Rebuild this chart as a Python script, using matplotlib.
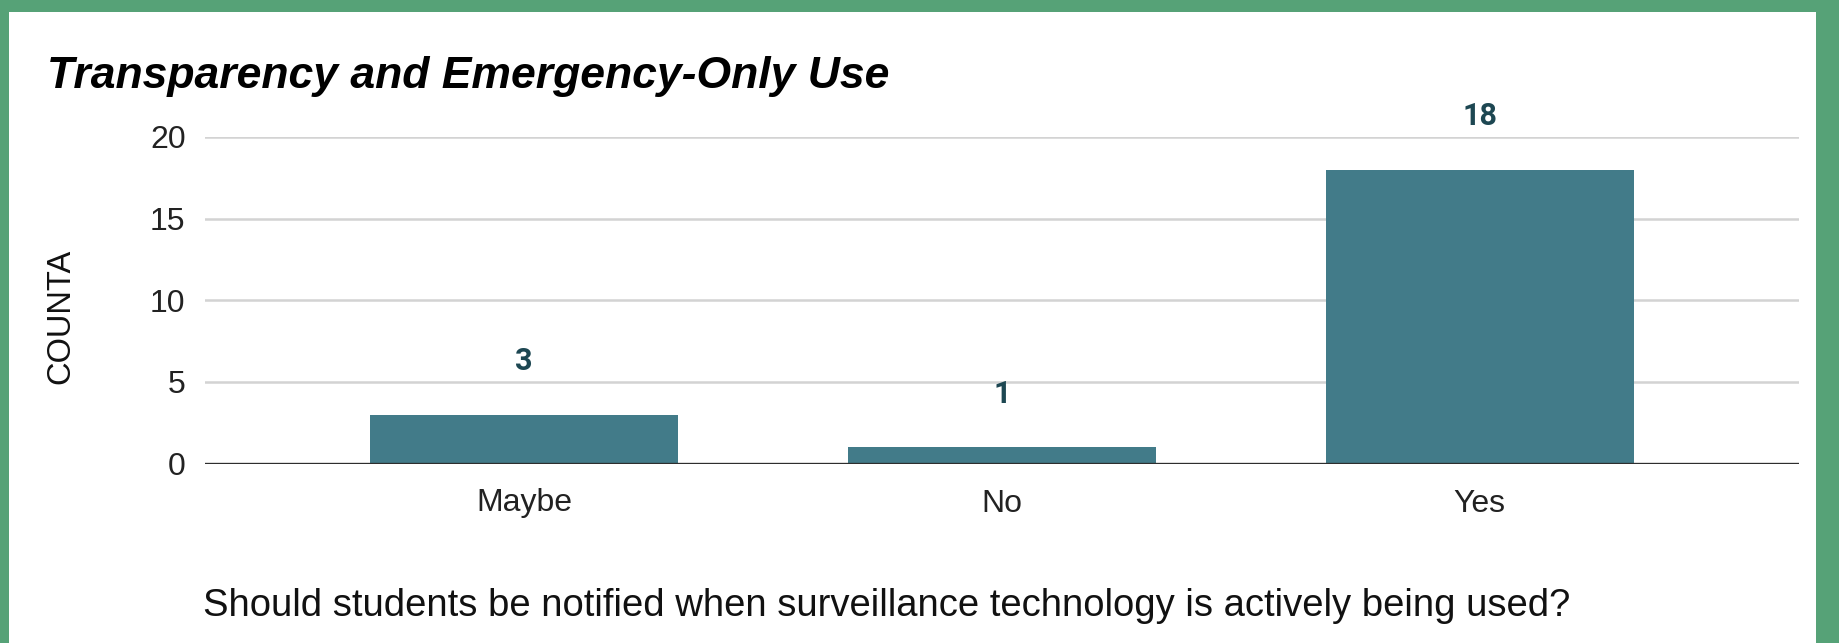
import matplotlib
matplotlib.use("Agg")
import matplotlib.pyplot as plt
from matplotlib.patches import Rectangle

categories = ["Maybe", "No", "Yes"]
counts = [3, 1, 18]
yticks = [0, 5, 10, 15, 20]
title = "Transparency and Emergency-Only Use"
xlabel = "Should students be notified when surveillance technology is actively being used?"
ylabel = "COUNTA"

W, H = 1840, 643
fig = plt.figure(figsize=(W / 100, H / 100), dpi=100)
fig.patch.set_facecolor("#56a277")
fig.patches.append(Rectangle((9 / W, 0), (W - 9 - 24) / W, (H - 12) / H,
                             transform=fig.transFigure, facecolor="white",
                             edgecolor="none", zorder=-5))

ax = fig.add_axes([205 / W, 1 - 463.5 / H, (1799 - 205) / W, (463.5 - 137) / H])
ax.set_zorder(2)
ax.set_facecolor("none")
x = list(range(len(categories)))
bars = ax.bar(x, counts, width=0.644, color="#427b89", zorder=3)
for xi, v in zip(x, counts):
    ax.annotate(str(v), (xi, v), xytext=(0, 38.5), textcoords="offset points",
                ha="center", va="center", fontsize=22, fontweight="bold",
                family="Roboto", color="#1d4752")

ax.set_xlim(-0.668, 2.668)
ax.set_ylim(0, 20)
ax.set_yticks(yticks)
ax.set_xticks(x)
ax.set_xticklabels(categories)
ax.grid(axis="y", color="#d3d3d3", linewidth=1.8, zorder=0)
ax.axhline(0, color="#2e2e2e", linewidth=2.4, zorder=4)
for s in ax.spines.values():
    s.set_visible(False)
ax.tick_params(axis="both", length=0, labelsize=23, colors="#222222")
ax.tick_params(axis="y", pad=14)
ax.tick_params(axis="x", pad=18)
for lbl in ax.get_xticklabels() + ax.get_yticklabels():
    lbl.set_family("Liberation Sans")

fig.text(47 / W, 1 - 88 / H, title, fontsize=32, fontweight="bold", fontstyle="italic",
         family="Liberation Sans", color="black", ha="left", va="baseline")
fig.text(203 / W, 1 - 616 / H, xlabel, fontsize=27.5, family="Liberation Sans",
         color="#111111", ha="left", va="baseline")
fig.text(61 / W, 1 - 316 / H, ylabel, fontsize=23.5, family="Liberation Sans",
         color="#111111", rotation=90, ha="center", va="center")

fig.savefig("out.png", dpi=100, facecolor=fig.get_facecolor())
